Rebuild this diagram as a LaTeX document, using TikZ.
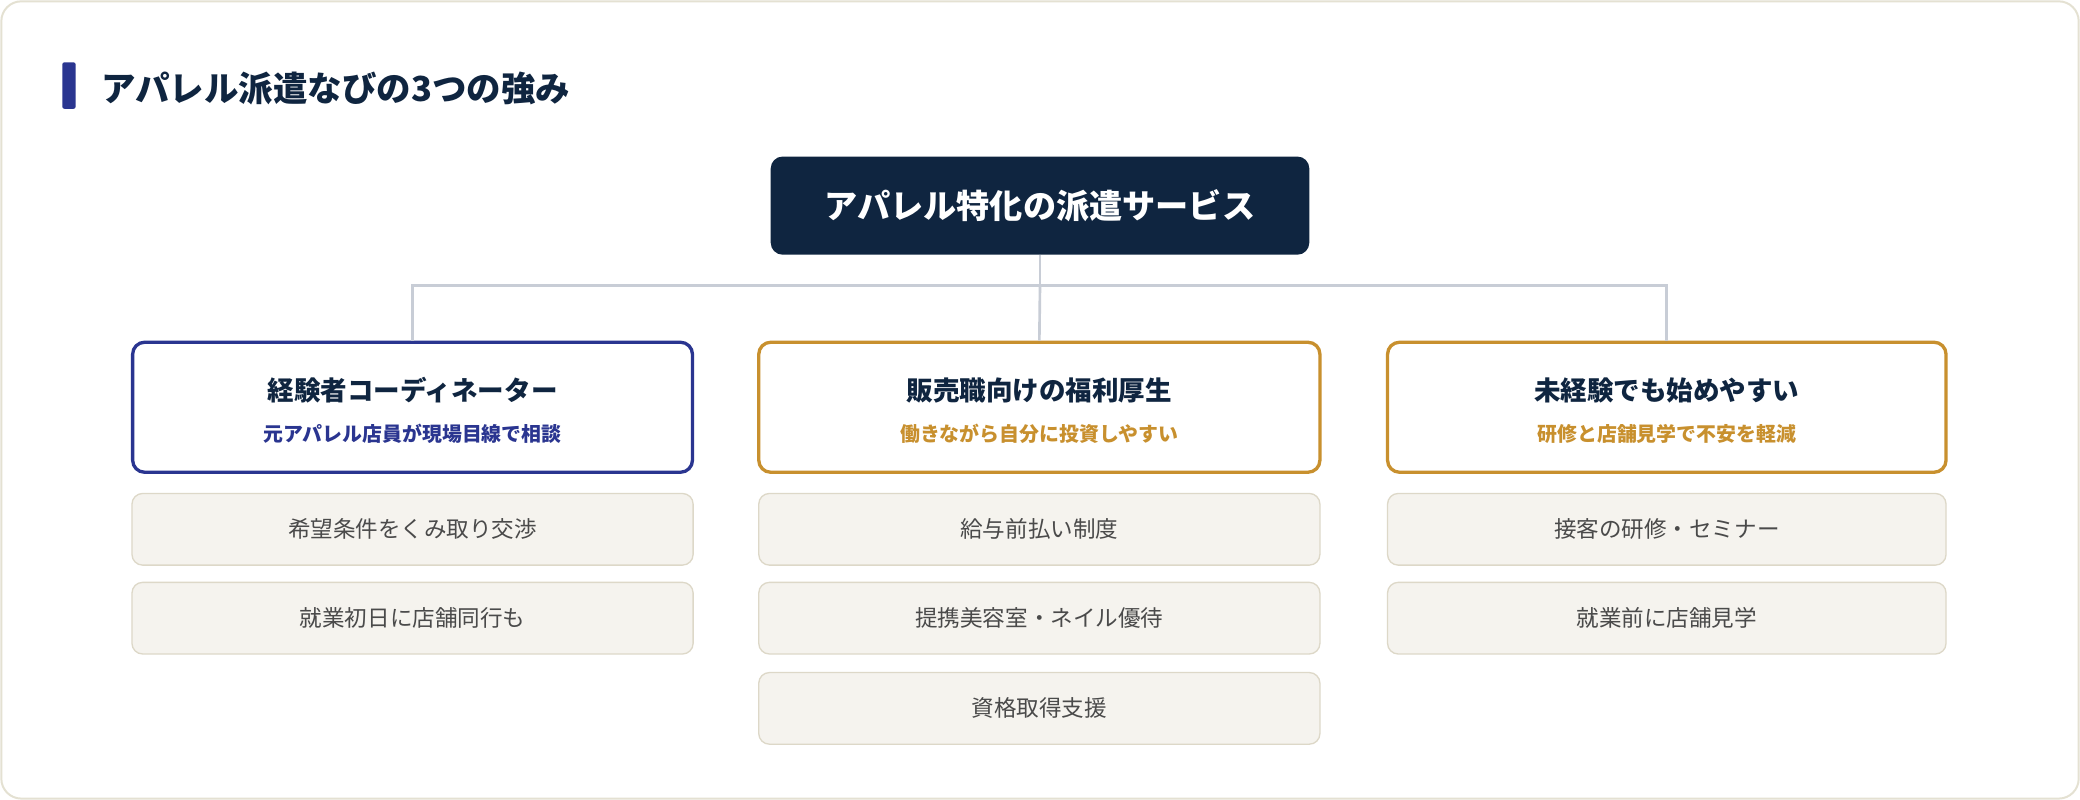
\documentclass[tikz,border=0pt]{standalone}
\usepackage{fontspec}
\setmainfont{Noto Sans CJK JP}
\begin{document}
\begin{tikzpicture}[x=1pt,y=-1pt,
  navy/.style={},
  card/.style={draw,line width=2.5pt,rounded corners=9pt,fill=white},
  item/.style={draw=itemb,line width=1pt,fill=itemf,rounded corners=8pt,minimum width=423pt,minimum height=54pt,font=\fontsize{17}{20}\selectfont,text=itemt},
  ctitle/.style={font=\bfseries\fontsize{20}{24}\selectfont,text=dark},
  csub/.style={font=\bfseries\fontsize{15}{18}\selectfont},
  conn/.style={draw=connc,line width=2pt}]
\definecolor{dark}{HTML}{0F2540}
\definecolor{blueb}{HTML}{2A3590}
\definecolor{gold}{HTML}{C8902E}
\definecolor{itemf}{HTML}{F5F3EE}
\definecolor{itemb}{HTML}{DDD8C8}
\definecolor{itemt}{HTML}{4A4A4A}
\definecolor{connc}{HTML}{C8CDD6}
\definecolor{outer}{HTML}{E4E1D2}
\useasboundingbox (0,0) rectangle (1568,603);
\draw[outer,line width=1.5pt,fill=white,rounded corners=15pt] (1,1) rectangle (1567,602);
\fill[blueb,rounded corners=1.5pt] (47,47) rectangle (57,82);
\node[anchor=west,text=dark,font=\bfseries\fontsize{26}{30}\selectfont] (title) at (73,67) {アパレル派遣なびの3つの強み};
\node[fill=dark,rounded corners=9pt,minimum width=406pt,minimum height=74pt,text=white,font=\bfseries\fontsize{25}{30}\selectfont] (top) at (784,155) {アパレル特化の派遣サービス};
% cards
\node[card,draw=blueb,minimum width=422pt,minimum height=98pt] (c1) at (311,307) {};
\node[card,draw=gold,minimum width=423pt,minimum height=98pt] (c2) at (783.5,307) {};
\node[card,draw=gold,minimum width=421pt,minimum height=98pt] (c3) at (1256.5,307) {};
\coordinate (j) at (784,215);
\draw[conn] (top.south) -- (j);
\draw[conn] (c1.north) |- (j) -| (c3.north);
\draw[conn] (j) -- (c2.north);
\node[ctitle] (t1) at (311,294) {経験者コーディネーター};
\node[csub,text=blueb] (s1) at (311,327) {元アパレル店員が現場目線で相談};
\node[ctitle] (t2) at (783.5,294) {販売職向けの福利厚生};
\node[csub,text=gold] (s2) at (783.5,327) {働きながら自分に投資しやすい};
\node[ctitle] (t3) at (1256.5,294) {未経験でも始めやすい};
\node[csub,text=gold] (s3) at (1256.5,327) {研修と店舗見学で不安を軽減};
% items
\node[item] (i11) at (311,399) {希望条件をくみ取り交渉};
\node[item] (i12) at (311,466) {就業初日に店舗同行も};
\node[item] (i21) at (783.5,399) {給与前払い制度};
\node[item] (i22) at (783.5,466) {提携美容室・ネイル優待};
\node[item] (i23) at (783.5,534) {資格取得支援};
\node[item,minimum width=421pt] (i31) at (1256.5,399) {接客の研修・セミナー};
\node[item,minimum width=421pt] (i32) at (1256.5,466) {就業前に店舗見学};
\end{tikzpicture}
\end{document}
